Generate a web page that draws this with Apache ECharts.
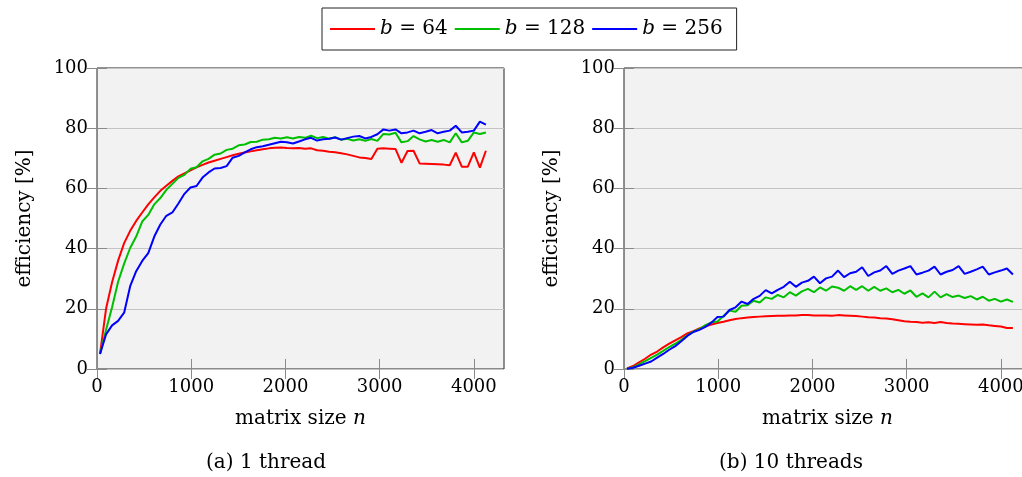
<!DOCTYPE html>
<html>
<head>
<meta charset="utf-8">
<script src="https://cdn.jsdelivr.net/npm/echarts@6/dist/echarts.min.js"></script>
<style>
html,body{margin:0;padding:0;background:#fff;overflow:hidden;width:1022px;height:477px;}
#chart{width:1044px;height:477px;}
</style>
</head>
<body>
<div id="chart"></div>
<script>
// matrix sizes n
const matrixSizes = [32, 96, 160, 224, 288, 352, 416, 480, 544, 608, 672, 736, 800, 864, 928, 992,
  1056, 1120, 1184, 1248, 1312, 1376, 1440, 1504, 1568, 1632, 1696, 1760, 1824, 1888, 1952, 2016,
  2080, 2144, 2208, 2272, 2336, 2400, 2464, 2528, 2592, 2656, 2720, 2784, 2848, 2912, 2976, 3040,
  3104, 3168, 3232, 3296, 3360, 3424, 3488, 3552, 3616, 3680, 3744, 3808, 3872, 3936, 4000, 4064, 4128];

const seriesNames = ['b = 64', 'b = 128', 'b = 256'];
const seriesColors = ['#ff0000', '#00bf00', '#0000ff'];

// (a) 1 thread, efficiency [%]
const eff1_b64 = [5, 20, 28.8, 36, 41.8, 45.9, 49.2, 52, 54.7, 57, 59.2, 60.9, 62.5, 64, 65, 66,
  67, 67.8, 68.6, 69.2, 69.8, 70.4, 71, 71.5, 71.9, 72.3, 72.7, 73, 73.3, 73.5, 73.6, 73.4,
  73.3, 73.4, 73.2, 73.3, 72.7, 72.5, 72.2, 72, 71.7, 71.3, 70.8, 70.3, 70.1, 69.8, 73.2, 73.3,
  73.2, 73.1, 68.5, 72.4, 72.5, 68.3, 68.2, 68.1, 68.0, 67.9, 67.7, 71.9, 67.2, 67.2, 72, 66.9, 72.5];
const eff1_b128 = [5, 13, 20.5, 29, 35, 40.2, 44, 49, 51.2, 54.7, 56.8, 59.5, 61.5, 63.5, 64.5, 66.5,
  67, 69, 69.8, 71.2, 71.6, 72.8, 73.2, 74.3, 74.6, 75.4, 75.5, 76.2, 76.3, 76.8, 76.6, 77,
  76.6, 77.1, 76.8, 77.5, 76.7, 77.1, 76.5, 77, 76.2, 76.5, 75.9, 76.3, 75.8, 76.4, 75.8, 78.1,
  77.9, 78.5, 75.3, 75.7, 77.4, 76.3, 75.6, 76.1, 75.5, 76.1, 75.3, 78.3, 75.3, 75.8, 78.6, 78.1, 78.6];
const eff1_b256 = [5, 11.5, 14.5, 16, 18.7, 27.5, 32.5, 35.9, 38.5, 44, 48, 50.9, 52, 55, 58.2, 60.3,
  60.8, 63.6, 65.3, 66.6, 66.8, 67.4, 70.2, 70.8, 72, 73, 73.7, 74, 74.5, 75, 75.5, 75.3,
  74.9, 75.6, 76.3, 76.8, 75.9, 76.3, 76.5, 76.9, 76.2, 76.7, 77.2, 77.4, 76.6, 77.1, 78.0, 79.6,
  79.2, 79.6, 78.3, 78.6, 79.2, 78.3, 78.8, 79.4, 78.3, 78.8, 79.2, 80.8, 78.6, 78.8, 79.2, 82.2, 81.2];

// (b) 10 threads, efficiency [%]
const eff10_b64 = [0.2, 1.0, 2.2, 3.4, 4.8, 5.8, 7.2, 8.4, 9.5, 10.6, 11.8, 12.6, 13.5, 14.2, 14.8, 15.3,
  15.7, 16.2, 16.6, 16.9, 17.1, 17.3, 17.4, 17.5, 17.6, 17.7, 17.7, 17.8, 17.8, 17.9, 17.9, 17.8,
  17.8, 17.8, 17.7, 17.9, 17.8, 17.7, 17.6, 17.4, 17.2, 17.1, 16.9, 16.8, 16.5, 16.2, 15.9, 15.7,
  15.6, 15.4, 15.5, 15.3, 15.6, 15.3, 15.1, 15.0, 14.9, 14.8, 14.7, 14.8, 14.5, 14.3, 14.1, 13.6, 13.6];
const eff10_b128 = [0.1, 0.6, 1.5, 2.6, 3.7, 4.8, 6.0, 7.3, 8.4, 9.7, 11.2, 12.4, 13.2, 14.6, 15.5, 15.8,
  17.6, 19.4, 19.0, 21.0, 21.2, 22.7, 22.1, 23.8, 23.3, 24.6, 23.8, 25.5, 24.4, 25.8, 26.6, 25.5,
  27.1, 26.0, 27.4, 27.0, 26.0, 27.5, 26.3, 27.5, 26.0, 27.3, 26.0, 26.8, 25.5, 26.3, 25.0, 26.1,
  24.0, 25.1, 23.8, 25.7, 23.8, 24.9, 23.9, 24.4, 23.6, 24.2, 23.1, 24.0, 22.7, 23.3, 22.4, 23.1, 22.3];
const eff10_b256 = [0.1, 0.4, 1.1, 1.8, 2.5, 3.8, 5.0, 6.4, 7.6, 9.2, 11.0, 12.3, 13.0, 14.0, 15.4, 17.3,
  17.4, 19.6, 20.5, 22.4, 21.6, 23.3, 24.3, 26.2, 25.1, 26.3, 27.3, 29.0, 27.3, 28.7, 29.3, 30.7,
  28.5, 30.1, 30.7, 32.7, 30.5, 31.8, 32.3, 33.8, 30.9, 32.1, 32.7, 34.2, 31.6, 32.7, 33.4, 34.2,
  31.4, 32.0, 32.7, 34.0, 31.4, 32.3, 32.9, 34.2, 31.6, 32.3, 33.1, 34.0, 31.4, 32.1, 32.7, 33.4, 31.4];

const xTicks = [0, 1000, 2000, 3000, 4000];
const yTicks = [0, 20, 40, 60, 80, 100];
const subCaptions = ['(a) 1 thread', '(b) 10 threads'];
const xTitle = 'matrix size {i|n}';
const yTitle = 'efficiency [%]';

const FONT = 'DejaVu Serif';
const panels = [
  {left: 97, data: [eff1_b64, eff1_b128, eff1_b256], caption: subCaptions[0], capX: 266},
  {left: 624, data: [eff10_b64, eff10_b128, eff10_b256], caption: subCaptions[1], capX: 791}
];

const grids = [], xAxes = [], yAxes = [], series = [], graphics = [];
panels.forEach((p, gi) => {
  grids.push({left: p.left, top: 68, width: 407, height: 301, show: true,
    backgroundColor: '#f2f2f2', borderColor: '#222', borderWidth: 1, containLabel: false});
  const xBase = {gridIndex: gi, type: 'value', min: 0, max: 4320, interval: 1000,
    axisLine: {show: false}, splitLine: {show: false},
    axisTick: {show: true, inside: true, length: 10, customValues: xTicks,
      lineStyle: {color: '#8a8a8a', width: 1}}};
  xAxes.push(Object.assign({}, xBase, {position: 'bottom',
    axisLabel: {show: true, margin: 9, fontFamily: FONT, fontSize: 18, color: '#000',
      customValues: xTicks,
      formatter: v => xTicks.indexOf(v) >= 0 ? String(v) : ''},
    name: xTitle, nameLocation: 'middle', nameGap: 40,
    nameTextStyle: {fontFamily: FONT, fontSize: 20, color: '#000',
      rich: {i: {fontFamily: FONT, fontSize: 20, fontStyle: 'italic', color: '#000'}}}}));
  xAxes.push(Object.assign({}, xBase, {position: 'top', axisLabel: {show: false}}));
  const yBase = {gridIndex: gi, type: 'value', min: 0, max: 100, interval: 20,
    axisLine: {show: false},
    axisTick: {show: true, inside: true, length: 10, lineStyle: {color: '#8a8a8a', width: 1}}};
  yAxes.push(Object.assign({}, yBase, {position: 'left',
    splitLine: {show: true, lineStyle: {color: '#c4c4c4', width: 1}},
    axisLabel: {show: true, margin: 9, fontFamily: FONT, fontSize: 18, color: '#000',
      formatter: v => yTicks.indexOf(v) >= 0 ? String(v) : ''},
    name: yTitle, nameLocation: 'middle', nameGap: 62, nameRotate: 90,
    nameTextStyle: {fontFamily: FONT, fontSize: 20, color: '#000'}}));
  yAxes.push(Object.assign({}, yBase, {position: 'right', splitLine: {show: false}, axisLabel: {show: false}}));
  p.data.forEach((arr, si) => {
    series.push({
      name: seriesNames[si], type: 'line', xAxisIndex: gi * 2, yAxisIndex: gi * 2,
      showSymbol: false, symbol: 'none', smooth: false,
      lineStyle: {color: seriesColors[si], width: 2}, itemStyle: {color: seriesColors[si]},
      data: matrixSizes.map((n, i) => [n, arr[i]])
    });
  });
  graphics.push({type: 'text', x: p.capX, y: 463,
    style: {text: p.caption, font: '20px "' + FONT + '"', fill: '#000', textAlign: 'center', textVerticalAlign: 'middle'}});
});

const chart = echarts.init(document.getElementById('chart'), null, {renderer: 'canvas'});
chart.setOption({
  animation: false,
  backgroundColor: '#fff',
  grid: grids, xAxis: xAxes, yAxis: yAxes, series: series, graphic: graphics,
  legend: {
    data: seriesNames, left: 322, top: 8, orient: 'horizontal',
    icon: 'rect', itemWidth: 45, itemHeight: 2, itemGap: 7,
    borderColor: '#222', borderWidth: 1, padding: [11, 14, 11, 8],
    formatter: name => '{i|b} = ' + name.split('= ')[1],
    textStyle: {fontFamily: FONT, fontSize: 20, color: '#000',
      rich: {i: {fontFamily: FONT, fontSize: 20, fontStyle: 'italic', color: '#000'}}}
  }
});
</script>
</body>
</html>
